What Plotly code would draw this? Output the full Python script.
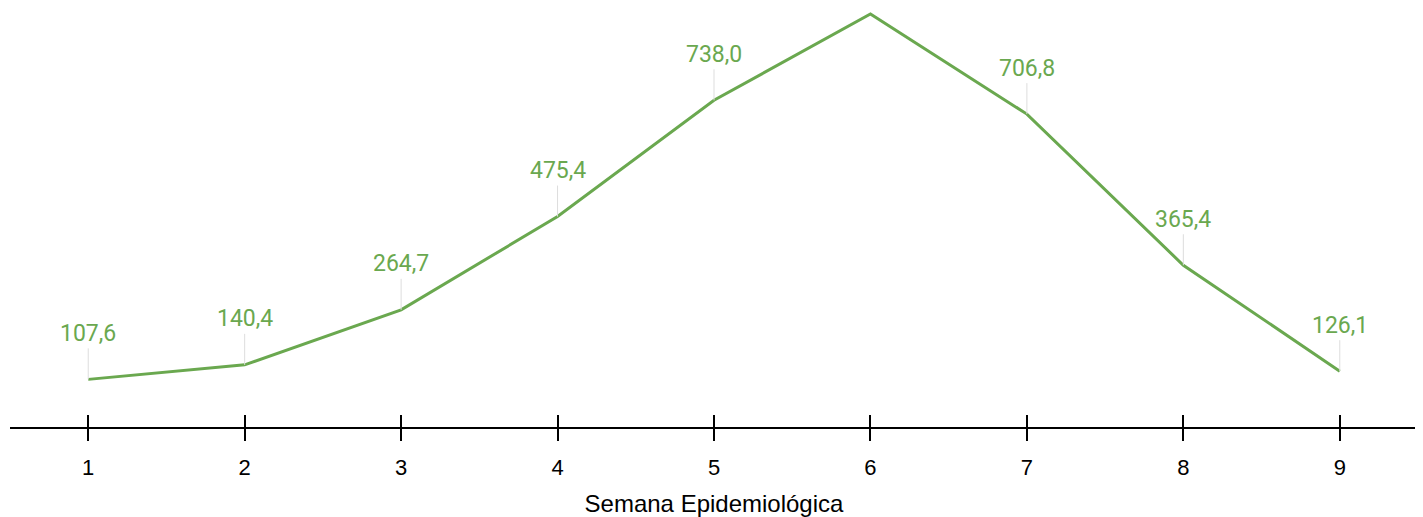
import plotly.graph_objects as go

semanas = [1, 2, 3, 4, 5, 6, 7, 8, 9]
valores = [107.6, 140.4, 264.7, 475.4, 738.0, 933.0, 706.8, 365.4, 126.1]
etiquetas = [f"{v:.1f}".replace(".", ",") for v in valores]
tick_labels = [str(s) for s in semanas]

green = "#6aa84f"

fig = go.Figure()
fig.add_trace(go.Scatter(
    x=semanas, y=valores, mode="lines",
    line=dict(color=green, width=3),
    hoverinfo="skip", showlegend=False, cliponaxis=False,
))

vmax = max(valores)
for s, v, t in zip(semanas, valores, etiquetas):
    if v == vmax:
        continue  # label of the peak falls above the visible area in the reference
    fig.add_annotation(
        x=s, y=v, xref="x", yref="y", text=t,
        showarrow=True, arrowhead=0, arrowwidth=1, arrowcolor="#dddddd",
        ax=0, ay=-46, font=dict(family="Roboto", size=23, color=green),
    )

axis_common = dict(
    range=[0.5, 9.5], tickmode="array", tickvals=semanas,
    showgrid=False, zeroline=False, automargin=False,
)
fig.update_layout(
    width=1415, height=509,
    margin=dict(l=2, r=5, t=0, b=90, autoexpand=False),
    paper_bgcolor="white", plot_bgcolor="white",
    xaxis=dict(
        **axis_common, ticktext=tick_labels,
        showline=True, linecolor="black", linewidth=2,
        ticks="outside", ticklen=12, tickwidth=2, tickcolor="black",
        ticklabelstandoff=8,
        tickfont=dict(family="Liberation Sans, Arial", size=22, color="black"),
        title=dict(text="Semana Epidemiológica",
                   font=dict(family="Liberation Sans, Arial", size=24, color="black"),
                   standoff=18),
    ),
    xaxis2=dict(
        **axis_common, overlaying="x", side="bottom", anchor="y",
        showticklabels=False, showline=False,
        ticks="inside", ticklen=12, tickwidth=2, tickcolor="black",
    ),
    yaxis=dict(range=[0, 946.5], visible=False, showgrid=False, zeroline=False,
               automargin=False),
)
fig.add_trace(go.Scatter(x=[None], y=[None], xaxis="x2", showlegend=False, hoverinfo="skip"))

fig.write_html("out.html")
